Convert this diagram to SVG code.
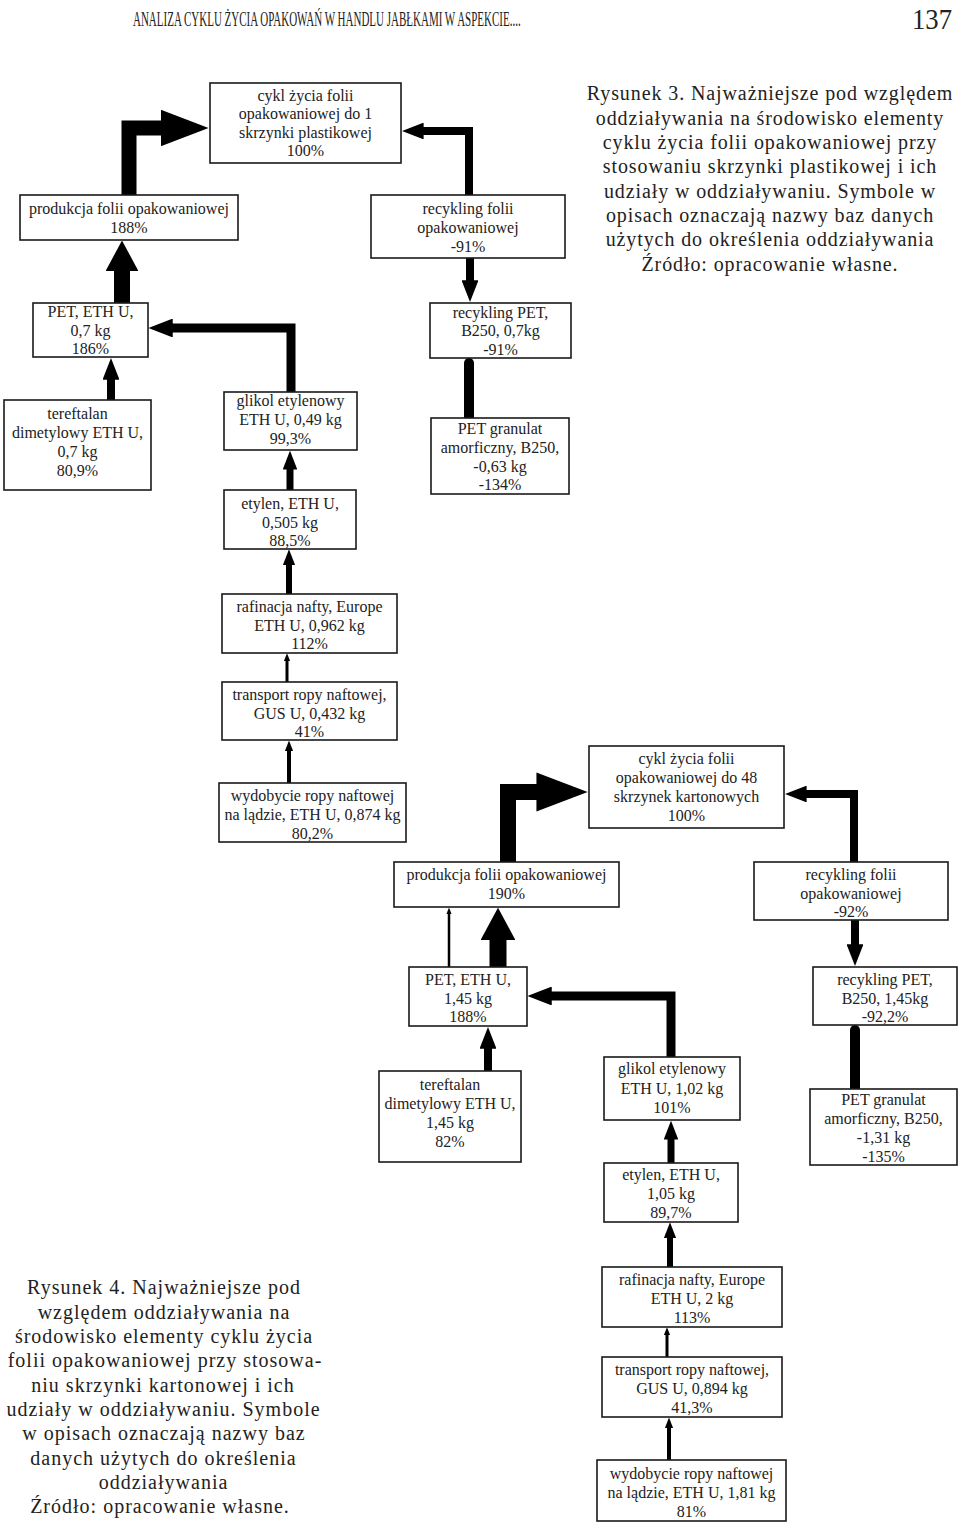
<svg xmlns="http://www.w3.org/2000/svg" width="960" height="1526" viewBox="0 0 960 1526">
<style>
.box{fill:#fff;stroke:#1a1a1a;stroke-width:1.6}
.lbl{font-family:"Liberation Serif","Times New Roman",serif;font-size:16px;fill:#222;text-anchor:middle}
.cap{font-family:"Liberation Serif","Times New Roman",serif;font-size:20px;fill:#222;text-anchor:middle;letter-spacing:0.9px}
.hdr{font-family:"Liberation Serif","Times New Roman",serif;fill:#222}
.conn{fill:none;stroke:#000;stroke-linejoin:miter}
.bar{fill:none;stroke:#000;stroke-linecap:round}
</style>
<defs>
<marker id="big" viewBox="0 0 10 10" preserveAspectRatio="none" markerWidth="3.2" markerHeight="2.45" refX="0.3" refY="5" orient="auto"><path d="M0,0 L10,5 L0,10 z" fill="#000"/></marker>
<marker id="std" viewBox="0 0 10 10" preserveAspectRatio="none" markerWidth="2.7" markerHeight="2.1" refX="0.3" refY="5" orient="auto"><path d="M0,0 L10,5 L0,10 z" fill="#000"/></marker>
<marker id="stub" viewBox="0 0 10 10" preserveAspectRatio="none" markerWidth="1.9" markerHeight="2.05" refX="0.3" refY="5" orient="auto"><path d="M0,0 L10,5 L0,10 z" fill="#000"/></marker>
</defs>
<rect width="960" height="1526" fill="#fff"/>

<g id="header">
<text class="hdr" transform="translate(133,26) scale(0.5,1)" x="0" y="0" font-size="22">ANALIZA CYKLU ŻYCIA OPAKOWAŃ W HANDLU JABŁKAMI W ASPEKCIE....</text>
<text class="hdr" x="912" y="29" font-size="30" textLength="40" lengthAdjust="spacingAndGlyphs">137</text>
</g>

<g id="connectors">
<path class="conn" stroke-width="15" marker-end="url(#big)" d="M129,195 V128 H162"/>
<path class="conn" stroke-width="8" marker-end="url(#std)" d="M469,195 V131 H423"/>
<path class="conn" stroke-width="8" marker-end="url(#std)" d="M470,258 V281"/>
<path class="conn" stroke-width="16" marker-end="url(#stub)" d="M122,303 V270"/>
<path class="conn" stroke-width="9" marker-end="url(#std)" d="M291,392 V328 H172"/>
<path class="conn" stroke-width="8" marker-end="url(#std)" d="M111,400 V379"/>
<path class="conn" stroke-width="7" marker-end="url(#std)" d="M290,490 V469"/>
<path class="bar" stroke-width="10" d="M469,363 V425"/>
<path class="conn" stroke-width="6" marker-end="url(#std)" d="M289,594 V565"/>
<path class="conn" stroke-width="3" marker-end="url(#std)" d="M287,682 V661"/>
<path class="conn" stroke-width="4" marker-end="url(#std)" d="M289,783 V751"/>

<path class="conn" stroke-width="16" marker-end="url(#big)" d="M508,862 V792 H538"/>
<path class="conn" stroke-width="8" marker-end="url(#std)" d="M854,862 V794 H806"/>
<path class="conn" stroke-width="8" marker-end="url(#std)" d="M855,920 V945"/>
<path class="bar" stroke-width="10" d="M855,1030 V1095"/>
<path class="conn" stroke-width="2.5" marker-end="url(#std)" d="M449,967 V914"/>
<path class="conn" stroke-width="17" marker-end="url(#stub)" d="M498,967 V939"/>
<path class="conn" stroke-width="9" marker-end="url(#std)" d="M671,1057 V996 H551"/>
<path class="conn" stroke-width="8" marker-end="url(#std)" d="M488,1071 V1048"/>
<path class="conn" stroke-width="7" marker-end="url(#std)" d="M671,1163 V1139"/>
<path class="conn" stroke-width="6" marker-end="url(#std)" d="M670,1267 V1238"/>
<path class="conn" stroke-width="3" marker-end="url(#std)" d="M667,1357 V1335"/>
<path class="conn" stroke-width="4" marker-end="url(#std)" d="M669,1460 V1428"/>
</g>

<g id="n-cykl1"><rect class="box" x="210" y="83" width="191" height="80"/>
<text class="lbl"><tspan x="305.5" y="100.5">cykl życia folii</tspan><tspan x="305.5" y="119">opakowaniowej do 1</tspan><tspan x="305.5" y="137.5">skrzynki plastikowej</tspan><tspan x="305.5" y="156">100%</tspan></text></g>

<g id="n-produkcja188"><rect class="box" x="20" y="195" width="218" height="45"/>
<text class="lbl"><tspan x="129" y="213.5">produkcja folii opakowaniowej</tspan><tspan x="129" y="232.5">188%</tspan></text></g>

<g id="n-recyklingFolii91"><rect class="box" x="371" y="195" width="194" height="63"/>
<text class="lbl"><tspan x="468" y="214">recykling folii</tspan><tspan x="468" y="233">opakowaniowej</tspan><tspan x="468" y="251.5">-91%</tspan></text></g>

<g id="n-PET07"><rect class="box" x="33" y="303" width="115" height="54"/>
<text class="lbl"><tspan x="90.5" y="317">PET, ETH U,</tspan><tspan x="90.5" y="335.5">0,7 kg</tspan><tspan x="90.5" y="354">186%</tspan></text></g>

<g id="n-recyklingPET07"><rect class="box" x="430" y="303" width="141" height="55"/>
<text class="lbl"><tspan x="500.5" y="317.5">recykling PET,</tspan><tspan x="500.5" y="336">B250, 0,7kg</tspan><tspan x="500.5" y="354.5">-91%</tspan></text></g>

<g id="n-tereftalan07"><rect class="box" x="4" y="400" width="147" height="90"/>
<text class="lbl"><tspan x="77.5" y="418.5">tereftalan</tspan><tspan x="77.5" y="437.5">dimetylowy ETH U,</tspan><tspan x="77.5" y="456.5">0,7 kg</tspan><tspan x="77.5" y="475.5">80,9%</tspan></text></g>

<g id="n-glikol049"><rect class="box" x="224" y="392" width="133" height="58"/>
<text class="lbl"><tspan x="290.5" y="405.5">glikol etylenowy</tspan><tspan x="290.5" y="424.5">ETH U, 0,49 kg</tspan><tspan x="290.5" y="443.5">99,3%</tspan></text></g>

<g id="n-etylen0505"><rect class="box" x="224" y="490" width="132" height="59"/>
<text class="lbl"><tspan x="290" y="508.5">etylen, ETH U,</tspan><tspan x="290" y="527.5">0,505 kg</tspan><tspan x="290" y="545.5">88,5%</tspan></text></g>

<g id="n-granulat063"><rect class="box" x="431" y="418" width="138" height="76"/>
<text class="lbl"><tspan x="500" y="433.5">PET granulat</tspan><tspan x="500" y="452.5">amorficzny, B250,</tspan><tspan x="500" y="471.5">-0,63 kg</tspan><tspan x="500" y="490">-134%</tspan></text></g>

<g id="n-rafinacja0962"><rect class="box" x="222" y="594" width="175" height="59"/>
<text class="lbl"><tspan x="309.5" y="611.5">rafinacja  nafty, Europe</tspan><tspan x="309.5" y="630.5">ETH U, 0,962 kg</tspan><tspan x="309.5" y="648.5">112%</tspan></text></g>

<g id="n-transport0432"><rect class="box" x="222" y="682" width="175" height="58"/>
<text class="lbl"><tspan x="309.5" y="699.5">transport  ropy naftowej,</tspan><tspan x="309.5" y="718.5">GUS U, 0,432 kg</tspan><tspan x="309.5" y="736.5">41%</tspan></text></g>

<g id="n-wydobycie0874"><rect class="box" x="219" y="783" width="187" height="59"/>
<text class="lbl"><tspan x="312.5" y="800.5">wydobycie ropy naftowej</tspan><tspan x="312.5" y="819.5">na lądzie, ETH U, 0,874 kg</tspan><tspan x="312.5" y="838.5">80,2%</tspan></text></g>

<g id="n-cykl48"><rect class="box" x="589" y="746" width="195" height="82"/>
<text class="lbl"><tspan x="686.5" y="763.5">cykl życia folii</tspan><tspan x="686.5" y="782.5">opakowaniowej do 48</tspan><tspan x="686.5" y="801.5">skrzynek kartonowych</tspan><tspan x="686.5" y="820.5">100%</tspan></text></g>

<g id="n-produkcja190"><rect class="box" x="394" y="862" width="225" height="45"/>
<text class="lbl"><tspan x="506.5" y="879.5">produkcja folii opakowaniowej</tspan><tspan x="506.5" y="898.5">190%</tspan></text></g>

<g id="n-recyklingFolii92"><rect class="box" x="754" y="862" width="194" height="58"/>
<text class="lbl"><tspan x="851" y="879.5">recykling folii</tspan><tspan x="851" y="898.5">opakowaniowej</tspan><tspan x="851" y="917">-92%</tspan></text></g>

<g id="n-PET145"><rect class="box" x="409" y="967" width="118" height="59"/>
<text class="lbl"><tspan x="468" y="984.5">PET, ETH U,</tspan><tspan x="468" y="1003.5">1,45 kg</tspan><tspan x="468" y="1022">188%</tspan></text></g>

<g id="n-recyklingPET145"><rect class="box" x="813" y="967" width="144" height="58"/>
<text class="lbl"><tspan x="885" y="984.5">recykling PET,</tspan><tspan x="885" y="1003.5">B250, 1,45kg</tspan><tspan x="885" y="1022">-92,2%</tspan></text></g>

<g id="n-tereftalan145"><rect class="box" x="379" y="1071" width="142" height="91"/>
<text class="lbl"><tspan x="450" y="1089.5">tereftalan</tspan><tspan x="450" y="1108.5">dimetylowy ETH U,</tspan><tspan x="450" y="1127.5">1,45 kg</tspan><tspan x="450" y="1146.5">82%</tspan></text></g>

<g id="n-glikol102"><rect class="box" x="604" y="1057" width="136" height="63"/>
<text class="lbl"><tspan x="672" y="1073.5">glikol etylenowy</tspan><tspan x="672" y="1093.5">ETH U, 1,02 kg</tspan><tspan x="672" y="1112.5">101%</tspan></text></g>

<g id="n-etylen105"><rect class="box" x="604" y="1163" width="134" height="59"/>
<text class="lbl"><tspan x="671" y="1179.5">etylen, ETH U,</tspan><tspan x="671" y="1198.5">1,05 kg</tspan><tspan x="671" y="1217.5">89,7%</tspan></text></g>

<g id="n-granulat131"><rect class="box" x="810" y="1089" width="147" height="76"/>
<text class="lbl"><tspan x="883.5" y="1104.5">PET granulat</tspan><tspan x="883.5" y="1123.5">amorficzny, B250,</tspan><tspan x="883.5" y="1142.5">-1,31 kg</tspan><tspan x="883.5" y="1161.5">-135%</tspan></text></g>

<g id="n-rafinacja2"><rect class="box" x="602" y="1267" width="180" height="60"/>
<text class="lbl"><tspan x="692" y="1284.5">rafinacja  nafty, Europe</tspan><tspan x="692" y="1303.5">ETH U, 2 kg</tspan><tspan x="692" y="1322.5">113%</tspan></text></g>

<g id="n-transport0894"><rect class="box" x="602" y="1357" width="180" height="60"/>
<text class="lbl"><tspan x="692" y="1374.5">transport  ropy naftowej,</tspan><tspan x="692" y="1393.5">GUS U, 0,894 kg</tspan><tspan x="692" y="1412.5">41,3%</tspan></text></g>

<g id="n-wydobycie181"><rect class="box" x="597" y="1460" width="189" height="61"/>
<text class="lbl"><tspan x="691.5" y="1478.5">wydobycie ropy naftowej</tspan><tspan x="691.5" y="1497.5">na lądzie, ETH U, 1,81 kg</tspan><tspan x="691.5" y="1516.5">81%</tspan></text></g>

<g id="caption3">
<text class="cap"><tspan x="770" y="100">Rysunek 3. Najważniejsze pod względem</tspan><tspan x="770" y="124.5">oddziaływania na środowisko elementy</tspan><tspan x="770" y="149">cyklu życia folii opakowaniowej przy</tspan><tspan x="770" y="173">stosowaniu skrzynki plastikowej i ich</tspan><tspan x="770" y="197.5">udziały w oddziaływaniu. Symbole w</tspan><tspan x="770" y="222">opisach oznaczają nazwy baz danych</tspan><tspan x="770" y="246">użytych do określenia oddziaływania</tspan><tspan x="770" y="270.5">Źródło: opracowanie własne.</tspan></text>
</g>

<g id="caption4">
<text class="cap" style="letter-spacing:1px"><tspan x="164" y="1294">Rysunek 4. Najważniejsze pod</tspan><tspan x="164" y="1318.5">względem oddziaływania na</tspan><tspan x="164" y="1343">środowisko elementy cyklu życia</tspan><tspan x="165" y="1367">folii opakowaniowej przy stosowa-</tspan><tspan x="163" y="1391.5">niu skrzynki kartonowej i ich</tspan><tspan x="163.5" y="1416">udziały w oddziaływaniu. Symbole</tspan><tspan x="164" y="1440">w opisach oznaczają nazwy baz</tspan><tspan x="163.5" y="1464.5">danych użytych do określenia</tspan><tspan x="163.5" y="1489">oddziaływania</tspan><tspan x="160" y="1513">Źródło: opracowanie własne.</tspan></text>
</g>
</svg>
